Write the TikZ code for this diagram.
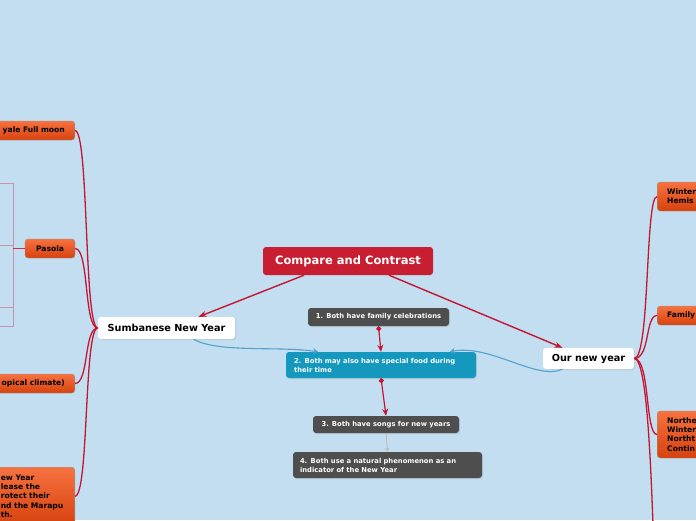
\documentclass[tikz,border=0pt]{standalone}
\usepackage{fontspec}
\setmainfont{DejaVu Sans}
\usepackage{tikz}
\usetikzlibrary{arrows.meta, positioning, shadows}
\definecolor{bgblue}{RGB}{194,222,240}
\definecolor{mapred}{RGB}{200,30,50}
\definecolor{linered}{RGB}{196,22,48}
\definecolor{boxgray}{RGB}{78,78,78}
\definecolor{foodteal}{RGB}{20,152,190}
\definecolor{orangetop}{RGB}{246,114,64}
\definecolor{orangebot}{RGB}{214,66,14}
\definecolor{linkblue}{RGB}{86,160,208}
\definecolor{bracketpink}{RGB}{200,145,175}

\begin{document}
\begin{tikzpicture}[x=1pt, y=-1pt,
      root/.style={rectangle, fill=mapred, rounded corners=3pt, text=white,
                   font=\fontsize{11.5}{13}\selectfont\bfseries, minimum width=170pt,
                   minimum height=28pt, inner sep=0pt},
      main/.style={rectangle, fill=white, rounded corners=3pt, inner sep=0pt,
                   font=\fontsize{9.7}{11}\selectfont\bfseries, minimum height=22pt,
                   drop shadow={opacity=0.2, shadow xshift=1pt, shadow yshift=-1pt}},
      point/.style={rectangle, fill=boxgray, rounded corners=3pt, text=white,
                    font=\fontsize{6.8}{9}\selectfont\bfseries, inner xsep=7pt, inner ysep=0pt,
                    minimum height=18pt, drop shadow={opacity=0.2, shadow xshift=1pt, shadow yshift=-1pt}},
      leaf/.style={rectangle, draw=gray!80, top color=orangetop, bottom color=orangebot,
                   rounded corners=3pt, font=\fontsize{7.6}{9.3}\selectfont\bfseries,
                   inner xsep=10pt, inner ysep=0pt, minimum height=19pt},
      arr/.style={-{Stealth[length=8pt, width=6pt]}, linered, line width=1.4pt},
      flow/.style={{Circle[length=5pt]}-{Stealth[length=7pt, width=6pt]}, linered, line width=1.2pt},
      faint/.style={-{Stealth[length=4pt, width=4pt]}, gray!55, line width=0.8pt},
      link/.style={-{Stealth[length=5pt, width=6pt]}, linkblue, line width=1.1pt},
      branch/.style={linered, line width=1.3pt},
      bracket/.style={bracketpink, line width=0.9pt},
    ]
    \useasboundingbox (0,0) rectangle (696,520);
    \clip (0,0) rectangle (696,520);
    \fill[bgblue] (0,0) rectangle (696,520);

    \node[root] (cc) at (348,261) {Compare and Contrast};
    \node[main, minimum width=137pt] (sumba) at (166.5,328) {Sumbanese New Year};
    \node[main, minimum width=91pt, minimum height=21pt] (ours) at (588.5,358.5) {Our new year};

    \node[point, minimum width=141pt] (fam) at (378.5,317) {1. Both have family celebrations};
    \node[point, fill=foodteal, text width=174pt, align=left, inner xsep=8pt, minimum height=26pt] (food) at (381,365)
      {2. Both may also have special food during\\their time};
    \node[point, minimum width=146pt, minimum height=17pt] (songs) at (386,424.5) {3. Both have songs for new years};
    \node[point, text width=175pt, align=left, minimum height=26pt] (nature) at (387.5,465)
      {4. Both use a natural phenomenon as an\\indicator of the New Year};

    \node[leaf, anchor=east, text width=90pt, align=right] (nyale) at (75,130.5) {yale Full moon};
    \node[leaf, minimum width=50pt] (pasola) at (50,248.5) {Pasola};
    \node[leaf, anchor=east, text width=90pt, align=right] (climate) at (75,383.5) {opical climate)};
    \node[leaf, anchor=north east, text width=67pt, align=left, inner xsep=7pt, minimum height=58pt] (marapu) at (75,467)
      {ew Year\\lease the\\rotect their\\nd the Marapu\\th.};

    \node[leaf, anchor=west, text width=80pt, align=left, minimum height=29pt] (winter) at (657,196.5) {Winter\\Hemis};
    \node[leaf, anchor=west, text width=80pt, align=left] (family) at (657,315.5) {Family};
    \node[leaf, anchor=west, text width=80pt, align=left, minimum height=47pt] (north) at (657,434.5)
      {Northe\\Winter\\Northt\\Contin};
    \coordinate (below) at (656,600);

    \coordinate (fork) at (13,248.5);
    \draw[bracket] (0,183) -- (13,183) -- (13,326.5) -- (0,326.5);
    \draw[bracket] (0,245) -- (13,245) (0,307) -- (13,307);
    \draw[linered!75!bracketpink, line width=1pt] (pasola.west) -- (fork);

    \draw[arr] ([xshift=-44pt]cc.south) -- ([xshift=32pt]sumba.north);
    \draw[arr] ([xshift=41pt]cc.south) -- ([xshift=-26pt]ours.north);
    \draw[flow] (fam.south) -- (food.north);
    \draw[flow] (food.south) -- (songs.north);
    \draw[faint] (songs.south) -- (nature.north);

    \draw[link] ([xshift=27pt]sumba.south) .. controls +(25,14) and +(-40,-6) .. ([xshift=-63pt]food.north);
    \draw[link] ([xshift=-26pt]ours.south) .. controls +(-25,12) and +(40,-8) .. ([xshift=69pt]food.north);

    \foreach \leaf in {nyale, pasola, climate, marapu}
      \draw[branch] (sumba.west) .. controls +(-14,0) and +(14,0) .. (\leaf.east);
    \foreach \leaf in {winter, family, north}
      \draw[branch] (ours.east) .. controls +(16,0) and +(-12,0) .. (\leaf.west);
    \draw[branch] (ours.east) .. controls +(16,0) and +(-4,-80) .. (below);
  \end{tikzpicture}
\end{document}
